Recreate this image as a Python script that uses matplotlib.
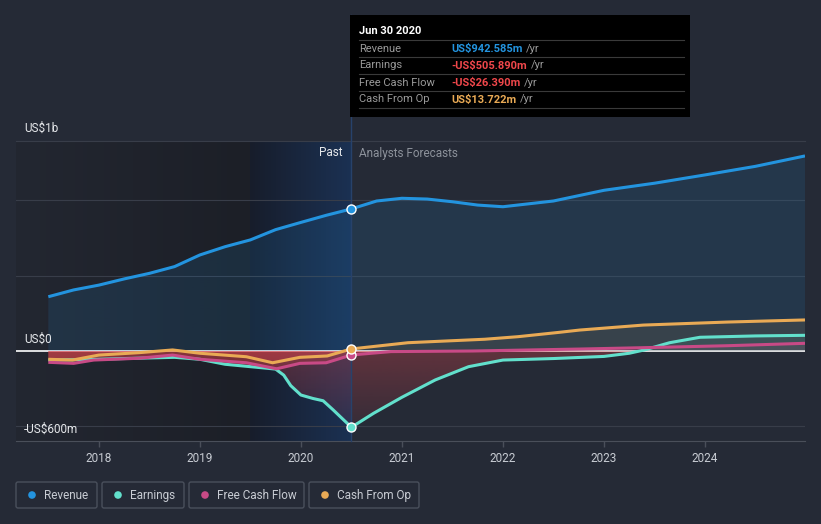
import numpy as np
import matplotlib
matplotlib.use("Agg")
import matplotlib.pyplot as plt
from matplotlib.patches import Rectangle, FancyBboxPatch, Circle
from matplotlib.path import Path
from matplotlib.colors import to_rgb

plt.rcParams["font.family"] = ["Roboto", "DejaVu Sans"]

# ---- data (US$ m, decimal years) ----
revenue_t = [2017.5, 2017.75, 2018.0, 2018.25, 2018.5, 2018.75, 2019.0, 2019.25, 2019.5,
             2019.75, 2020.0, 2020.25, 2020.5, 2020.75, 2021.0, 2021.25, 2021.5, 2021.75,
             2022.0, 2022.5, 2023.0, 2023.5, 2024.0, 2024.5, 2024.99]
revenue = [360, 405, 437, 478, 515, 560, 637, 692, 737, 805, 853, 900, 942.585, 995, 1013,
           1008, 990, 968, 957, 995, 1066, 1113, 1168, 1225, 1294]

earnings_t = [2017.5, 2017.75, 2018.0, 2018.25, 2018.5, 2018.75, 2019.0, 2019.25, 2019.5,
              2019.75, 2019.83, 2019.9, 2020.0, 2020.12, 2020.22, 2020.32, 2020.42, 2020.5,
              2020.72, 2021.0, 2021.33, 2021.66, 2022.0, 2022.5, 2023.0, 2023.25, 2023.4,
              2023.65, 2023.95, 2024.5, 2024.99]
earnings = [-60, -58, -55, -50, -46, -42, -55, -88, -104, -120, -160, -230, -292, -315, -330,
            -391, -455, -505.89, -413, -307, -192, -104, -60, -50, -36, -15, 7, 55, 91, 100, 104]

fcf_t = [2017.5, 2017.75, 2017.95, 2018.4, 2018.73, 2019.0, 2019.46, 2019.76, 2019.99,
         2020.25, 2020.5, 2020.89, 2021.7, 2022.76, 2023.39, 2024.22, 2024.99]
fcf = [-75, -82, -60, -48, -27, -55, -78, -118, -82, -78, -26.39, -4, 0, 13, 22, 35, 51]

cfo_t = [2017.5, 2017.74, 2018.0, 2018.4, 2018.73, 2019.0, 2019.46, 2019.72, 2019.99,
         2020.26, 2020.5, 2021.06, 2021.82, 2022.15, 2022.56, 2022.76, 2023.39, 2024.22, 2024.99]
cfo = [-55, -60, -27, -11, 7, -15, -38, -78, -42, -33, 13.722, 55, 78, 95, 124, 139, 172, 192, 206]

year_ticks = [2018, 2019, 2020, 2021, 2022, 2023, 2024]
now_t = 2020.5

BG = "#252a36"
C_REV, C_EARN, C_FCF, C_CFO = "#2394df", "#62e0cc", "#c84a86", "#e9aa55"
RED = "#e0464c"

W, H = 821, 524
XMIN, XMAX = 2017.18, 2024.99
YMIN, YMAX = -597, 1393

fig = plt.figure(figsize=(W / 100, H / 100), dpi=100)
fig.patch.set_facecolor(BG)
ax = fig.add_axes([16 / W, 1 - 441 / H, (805 - 16) / W, 300 / H])
ax.set_facecolor(BG)


def hgrad(x0, x1, c0, c1, z=0):
    c0, c1 = np.array(to_rgb(c0)), np.array(to_rgb(c1))
    f = np.linspace(0, 1, 256)[None, :, None]
    img = c0 + (c1 - c0) * f
    ax.imshow(img, extent=[x0, x1, YMIN, YMAX], aspect="auto", zorder=z, interpolation="bilinear")


# past shading and last-year highlight
hgrad(XMIN, 2019.5, "#232731", "#1c1f27")
hgrad(2019.5, now_t, "#171d2b", "#1b3153")

for g in [1000, 500, -500]:
    ax.axhline(g, color="#383d49", lw=0.8, zorder=1)
ax.axhline(0, color="white", lw=1.2, zorder=1.5)


def grad_fill(t, v, color, a_near, a_far, neg):
    t = np.asarray(t, float)
    v = np.asarray(v, float)
    where = v <= 0 if neg else v >= 0
    poly = ax.fill_between(t, v, 0, where=where, interpolate=True, facecolor="none",
                           edgecolor="none")
    paths = poly.get_paths()
    if not paths:
        return
    clip = Path.make_compound_path(*paths)
    img = np.zeros((256, 1, 4))
    img[..., :3] = to_rgb(color)
    if neg:
        img[:, 0, 3] = np.linspace(a_far, a_near, 256)
        ext = [XMIN, XMAX, YMIN, 0]
    else:
        img[:, 0, 3] = np.linspace(a_near, a_far, 256)
        ext = [XMIN, XMAX, 0, YMAX]
    im = ax.imshow(img, extent=ext, origin="lower", aspect="auto", zorder=2,
                   interpolation="bilinear")
    im.set_clip_path(clip, transform=ax.transData)


grad_fill(revenue_t, revenue, C_REV, 0.13, 0.13, False)
for tt, vv, cc in [(earnings_t, earnings, C_EARN), (fcf_t, fcf, C_FCF), (cfo_t, cfo, C_CFO)]:
    grad_fill(tt, vv, cc, 0.10, 0.10, False)
    grad_fill(tt, vv, RED, 0.32, 0.05, True)

for tt, vv, cc in [(revenue_t, revenue, C_REV), (earnings_t, earnings, C_EARN),
                   (fcf_t, fcf, C_FCF), (cfo_t, cfo, C_CFO)]:
    ax.plot(tt, vv, color=cc, lw=2.2, zorder=4, solid_capstyle="butt", solid_joinstyle="round")
    ax.plot(now_t, vv[tt.index(now_t)], "o", ms=6.5, mfc=cc, mec="white", mew=1, zorder=6)

ax.axvline(now_t, ymin=0, ymax=(441 - 15) / 300, color="#27426b", lw=1, zorder=3,
           clip_on=False)

ax.set_xlim(XMIN, XMAX)
ax.set_ylim(YMIN, YMAX)
ax.set_xticks(year_ticks)
ax.set_xticklabels([str(y) for y in year_ticks])
ax.set_yticks([])
ax.tick_params(axis="x", colors="#4a4f5a", labelcolor="#c8ccd3", labelsize=8.5,
               length=4, width=1, pad=4)
for s in ["left", "right"]:
    ax.spines[s].set_visible(False)
ax.spines["bottom"].set_color("#4a4f5a")
ax.spines["top"].set_color("#383d49")
ax.spines["top"].set_linewidth(0.8)

# ---- overlay in pixel coords ----
ov = fig.add_axes([0, 0, 1, 1])
ov.set_xlim(0, W)
ov.set_ylim(H, 0)
ov.axis("off")
ov.patch.set_alpha(0)

ov.text(24, 128, "US$1b", color="#e6e8eb", fontsize=8.5, va="center")
ov.text(24, 339, "US$0", color="#e6e8eb", fontsize=8.5, va="center")
ov.text(24, 429, "-US$600m", color="#e6e8eb", fontsize=8.5, va="center")
ov.text(343, 153, "Past", color="#e6e8eb", fontsize=8.5, va="center", ha="right")
ov.text(359, 153, "Analysts Forecasts", color="#8d929b", fontsize=8.5, va="center")

# tooltip
ov.add_patch(Rectangle((350, 15), 340, 102, facecolor="black", edgecolor="none", zorder=5))
ov.text(359, 31, "Jun 30 2020", color="white", fontsize=8, fontweight="bold", va="center",
        zorder=6)
rows = [("Revenue", "US$942.585m", C_REV), ("Earnings", "-US$505.890m", "#f0474b"),
        ("Free Cash Flow", "-US$26.390m", "#f0474b"), ("Cash From Op", "US$13.722m", C_CFO)]
for y in [40, 57, 74, 91, 108]:
    ov.plot([359, 684], [y, y], color="#3a3a3a", lw=0.8, zorder=6)
fig.canvas.draw()
r = fig.canvas.get_renderer()
for i, (lab, val, col) in enumerate(rows):
    y = 48.5 + i * 17
    ov.text(359, y, lab, color="#9a9a9a", fontsize=8, va="center", zorder=6)
    tv = ov.text(451, y, val, color=col, fontsize=8, fontweight="bold", va="center", zorder=6)
    bb = tv.get_window_extent(renderer=r)
    ov.text(bb.x1 + 4, y, "/yr", color="#9a9a9a", fontsize=8, va="center", zorder=6)

# legend
legend = [("Revenue", C_REV, 16, 97), ("Earnings", C_EARN, 102, 184),
          ("Free Cash Flow", C_FCF, 189, 304), ("Cash From Op", C_CFO, 309, 419)]
for lab, col, x0, x1 in legend:
    ov.add_patch(FancyBboxPatch((x0, 482), x1 - x0, 26, boxstyle="round,pad=0,rounding_size=2",
                                facecolor="none", edgecolor="#4a505c", lw=1))
    ov.add_patch(Circle((x0 + 16, 495), 3.8, facecolor=col, edgecolor="none"))
    ov.text(x0 + 28, 495.5, lab, color="#c8ccd3", fontsize=8.5, va="center")

fig.savefig("out.png", dpi=100, facecolor=BG)
